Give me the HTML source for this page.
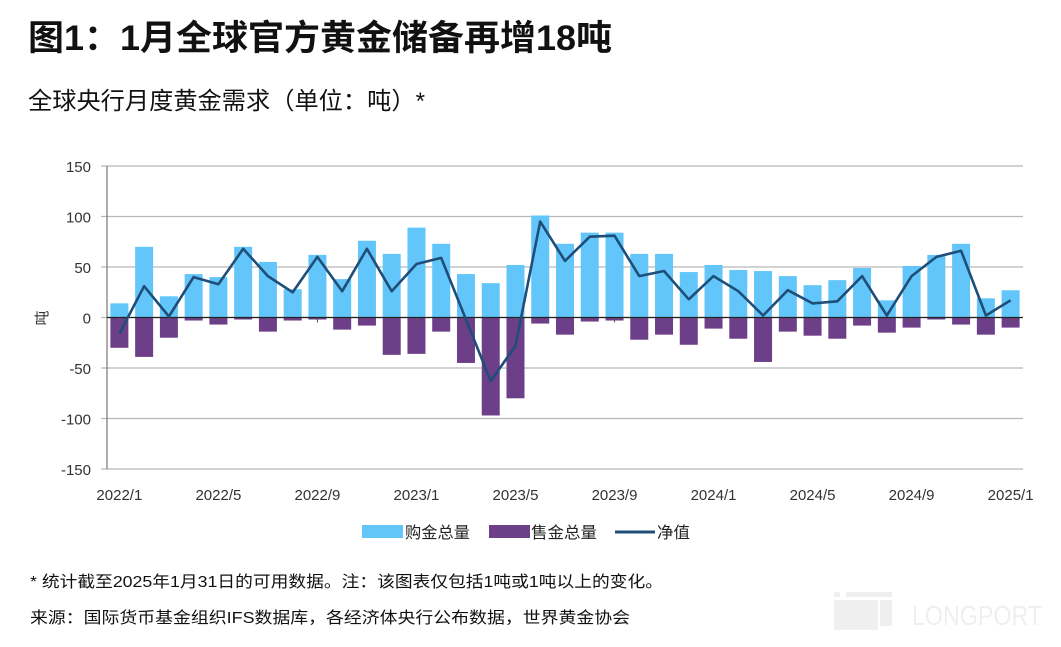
<!DOCTYPE html>
<html><head><meta charset="utf-8">
<style>
html,body{margin:0;padding:0;background:#fff;}
svg{display:block;font-family:"Liberation Sans","Noto Sans CJK SC",sans-serif;}
</style></head>
<body>
<svg id="chart" width="1061" height="647" viewBox="0 0 1061 647" xmlns="http://www.w3.org/2000/svg">
  <text x="28" y="50" font-size="35" font-weight="bold" fill="#111" textLength="584" lengthAdjust="spacingAndGlyphs">图1：1月全球官方黄金储备再增18吨</text>
  <text x="28" y="109" font-size="24" fill="#111" textLength="397" lengthAdjust="spacingAndGlyphs">全球央行月度黄金需求（单位：吨）*</text>
  <text transform="translate(47,318) rotate(-90)" text-anchor="middle" font-size="15" fill="#333">吨</text>
  <g id="grid"></g>
  <g id="ylabels"></g>
  <g id="bars"></g>
  <g id="line"></g>
  <g id="xlabels"></g>
  <g>
    <rect x="362" y="525" width="41" height="13" fill="#62c6fa"/>
    <text x="405" y="538" font-size="16" fill="#222" textLength="65" lengthAdjust="spacingAndGlyphs">购金总量</text>
    <rect x="489" y="525" width="41" height="13" fill="#6c3f88"/>
    <text x="531" y="538" font-size="16" fill="#222" textLength="66" lengthAdjust="spacingAndGlyphs">售金总量</text>
    <line x1="615" y1="532" x2="655" y2="532" stroke="#1f4e79" stroke-width="3"/>
    <text x="657" y="538" font-size="16" fill="#222" textLength="33" lengthAdjust="spacingAndGlyphs">净值</text>
  </g>
  <text x="30" y="587" font-size="16" fill="#111" textLength="633" lengthAdjust="spacingAndGlyphs">* 统计截至2025年1月31日的可用数据。注：该图表仅包括1吨或1吨以上的变化。</text>
  <text x="30" y="623" font-size="16" fill="#111" textLength="600" lengthAdjust="spacingAndGlyphs">来源：国际货币基金组织IFS数据库，各经济体央行公布数据，世界黄金协会</text>
  <g opacity="0.06">
    <rect x="834" y="592" width="6" height="5" fill="#000"/>
    <rect x="846" y="592" width="46" height="5" fill="#000"/>
    <rect x="834" y="600" width="44" height="30" fill="#000"/>
    <rect x="880" y="600" width="12" height="26" fill="#000"/>
    <text x="912" y="625" font-size="28" fill="#000" textLength="130" lengthAdjust="spacingAndGlyphs">LONGPORT</text>
  </g>
</svg>
<script>
const categories = ["2022/1","2022/2","2022/3","2022/4","2022/5","2022/6","2022/7","2022/8","2022/9","2022/10","2022/11","2022/12","2023/1","2023/2","2023/3","2023/4","2023/5","2023/6","2023/7","2023/8","2023/9","2023/10","2023/11","2023/12","2024/1","2024/2","2024/3","2024/4","2024/5","2024/6","2024/7","2024/8","2024/9","2024/10","2024/11","2024/12","2025/1"];
const buyValues = [14,70,21,43,40,70,55,28,62,38,76,63,89,73,43,34,52,101,73,84,84,63,63,45,52,47,46,41,32,37,49,17,51,62,73,19,27];
const sellValues = [-30,-39,-20,-3,-7,-2,-14,-3,-2,-12,-8,-37,-36,-14,-45,-97,-80,-6,-17,-4,-3,-22,-17,-27,-11,-21,-44,-14,-18,-21,-8,-15,-10,-2,-7,-17,-10];
const netValues = [-16,31,1,40,33,68,41,25,60,26,68,26,53,59,-2,-63,-28,95,56,80,81,41,46,18,41,26,2,27,14,16,41,2,41,60,66,2,17];
const yTicks = [150,100,50,0,-50,-100,-150];
const xTickLabels = ["2022/1","2022/5","2022/9","2023/1","2023/5","2023/9","2024/1","2024/5","2024/9","2025/1"];

const NS = "http://www.w3.org/2000/svg";
const plotL = 107, plotR = 1023, yTop = 166, yBot = 469, vMax = 150, vMin = -150;
const band = (plotR - plotL) / categories.length;
function yScale(v){ return yTop + (vMax - v) / (vMax - vMin) * (yBot - yTop); }
function xCenter(i){ return plotL + band * (i + 0.5); }
function mk(tag, attrs, parent){ const e = document.createElementNS(NS, tag); for (const k in attrs) e.setAttribute(k, attrs[k]); parent.appendChild(e); return e; }

const grid = document.getElementById('grid');
const yl = document.getElementById('ylabels');
yTicks.forEach(t => {
  const y = yScale(t);
  const g = mk('line', {x1: plotL - 6, x2: plotR, y1: y, y2: y, stroke: '#b8b8b8', 'stroke-width': 1.2}, grid);
  
  
  const tx = mk('text', {x: 91, y: y + 6, 'text-anchor': 'end', 'font-size': 15, fill: '#333'}, yl);
  tx.textContent = t;
  
  
});
const ax = mk('line', {x1: plotL, x2: plotL, y1: yTop, y2: yBot, stroke: '#777', 'stroke-width': 1.2}, grid);



const bars = document.getElementById('bars');
const bw = 18;
categories.forEach((c, i) => {
  const x = xCenter(i) - bw / 2;
  const b = buyValues[i], s = sellValues[i];
  const rb = mk('rect', {x: x, y: yScale(b), width: bw, height: yScale(0) - yScale(b), fill: '#62c6fa'}, bars);
  
  
  const rs = mk('rect', {x: x, y: yScale(0), width: bw, height: yScale(s) - yScale(0), fill: '#6c3f88'}, bars);
  
  
});
const zl = mk('line', {x1: plotL, x2: plotR, y1: yScale(0), y2: yScale(0), stroke: '#222', 'stroke-width': 1.3}, bars);



const lg = document.getElementById('line');
const pts = netValues.map((v, i) => xCenter(i).toFixed(1) + ',' + yScale(v).toFixed(1)).join(' ');
const pl = mk('polyline', {points: pts, fill: 'none', stroke: '#1f4e79', 'stroke-width': 2.6, 'stroke-linejoin': 'round'}, lg);



const xl = document.getElementById('xlabels');
xTickLabels.forEach(lab => {
  const i = categories.indexOf(lab);
  const x = xCenter(i);
  const tk = mk('line', {x1: x, x2: x, y1: yScale(0), y2: yScale(0) + 5, stroke: '#555', 'stroke-width': 1}, xl);
  
  
  const t = mk('text', {x: x, y: 500, 'text-anchor': 'middle', 'font-size': 15, fill: '#333'}, xl);
  t.textContent = lab;
  
  
});
</script>
</body></html>
